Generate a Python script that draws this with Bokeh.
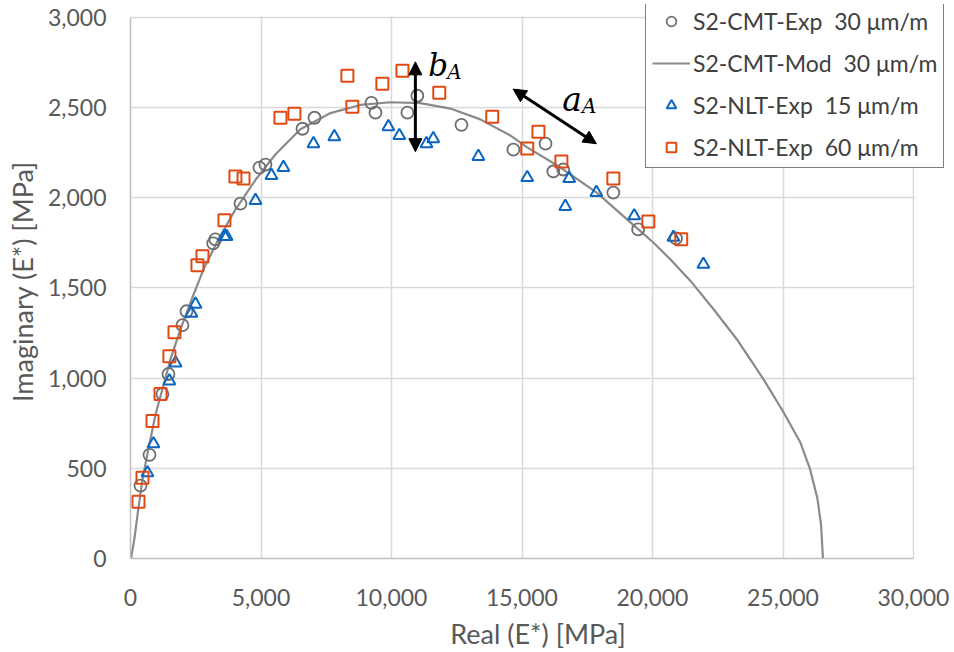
from bokeh.plotting import figure
from bokeh.models import (Legend, LegendItem, NumeralTickFormatter, FixedTicker,
                          Range1d, Arrow, NormalHead, Label, BoxAnnotation)
from bokeh.embed import file_html
from bokeh.resources import INLINE

# ---------------- data ----------------
cmt_exp_x = [383, 728, 1225, 1455, 1990, 2145, 3170, 3250, 4213, 4940, 5170,
             6590, 7050, 9230, 9385, 10610, 10990, 12680, 14670, 15900, 16200,
             16580, 18500, 19450, 20900]
cmt_exp_y = [404, 575, 912, 1023, 1294, 1371, 1747, 1770, 1968, 2168, 2184,
             2383, 2444, 2527, 2472, 2472, 2566, 2405, 2267, 2300, 2146,
             2157, 2029, 1825, 1775]

cmt_mod_x = [20, 150, 300, 460, 690, 960, 1225, 1530, 1915, 2300, 2800, 3370,
             4020, 4790, 5550, 6510, 7660, 8810, 9960, 11110, 12260, 13400,
             14560, 15200, 16400, 17850, 19460, 20040, 20680, 21510,
             22340, 23230, 24250, 25020, 25660, 26040, 26320, 26460, 26530]
cmt_mod_y = [0, 110, 275, 440, 610, 800, 940, 1105, 1270, 1420, 1605, 1770,
             1935, 2100, 2240, 2380, 2470, 2515, 2530, 2525, 2495, 2435,
             2345, 2280, 2175, 2030, 1825, 1751, 1659, 1530,
             1382, 1216, 995, 811, 645, 494, 332, 184, 0]

nlt15_x = [650, 880, 1490, 1725, 2335, 2490, 3600, 3680, 4790, 5400, 5860,
           7010, 7810, 9880, 10300, 11340, 11600, 13330, 15200, 16660, 16810,
           17850, 19300, 20800, 21950]
nlt15_y = [475, 636, 984, 1084, 1360, 1410, 1786, 1786, 1985, 2124, 2168,
           2300, 2339, 2394, 2345, 2300, 2328, 2229, 2112, 1952, 2107,
           2030, 1900, 1781, 1631]

nlt60_x = [306, 460, 843, 1150, 1490, 1685, 2565, 2757, 3600, 4020, 4330,
           5745, 6280, 8310, 8500, 9650, 10420, 11830, 13860, 15200, 15630,
           16510, 18500, 19840, 21100]
nlt60_y = [315, 448, 763, 912, 1122, 1255, 1626, 1676, 1875, 2118, 2107,
           2444, 2466, 2677, 2505, 2632, 2704, 2582, 2450, 2273, 2367,
           2201, 2107, 1869, 1770]

x_ticks = [0, 5000, 10000, 15000, 20000, 25000, 30000]
y_ticks = [0, 500, 1000, 1500, 2000, 2500, 3000]

labels = ["S2-CMT-Exp  30 μm/m", "S2-CMT-Mod  30 μm/m",
          "S2-NLT-Exp  15 μm/m", "S2-NLT-Exp  60 μm/m"]

# b_A arrow (vertical) and a_A arrow (diagonal)
bA_arrow = (10915, 2754, 10915, 2256)
aA_arrow = (14660, 2603, 17850, 2300)

# ---------------- figure ----------------
FONT = "Lato"
TXT = "#595959"
X_MAX, Y_MAX = 30000, 3000

# frame extends a little past the axis maxima so the legend box can overhang
p = figure(width=954, height=652, output_backend="svg", toolbar_location=None,
           x_range=Range1d(0, 31226), y_range=Range1d(0, 3072))
p.min_border_left = 130
p.min_border_right = 9
p.min_border_top = 4
p.min_border_bottom = 92
p.outline_line_color = None
p.background_fill_color = "white"
p.border_fill_color = "white"

for ax in (p.xaxis[0], p.yaxis[0]):
    ax.major_tick_line_color = None
    ax.minor_tick_line_color = None
    ax.axis_line_color = "#bfbfbf"
    ax.axis_line_width = 1.5
    ax.major_label_text_font = FONT
    ax.major_label_text_font_size = "23px"
    ax.major_label_text_color = TXT
    ax.axis_label_text_font = FONT
    ax.axis_label_text_font_size = "27px"
    ax.axis_label_text_color = TXT
    ax.axis_label_text_font_style = "normal"
    ax.formatter = NumeralTickFormatter(format="0,0")

p.xaxis[0].ticker = FixedTicker(ticks=x_ticks)
p.yaxis[0].ticker = FixedTicker(ticks=y_ticks)
p.xaxis[0].bounds = (0, X_MAX)
p.yaxis[0].bounds = (0, Y_MAX)
p.xaxis[0].axis_label = "Real (E*) [MPa]"
p.yaxis[0].axis_label = "Imaginary (E*) [MPa]"
p.xaxis[0].major_label_standoff = 24
p.yaxis[0].major_label_standoff = 18
p.xaxis[0].axis_label_standoff = 8
p.yaxis[0].axis_label_standoff = 6

p.xgrid.ticker = FixedTicker(ticks=x_ticks)
p.ygrid.ticker = FixedTicker(ticks=y_ticks)
p.grid.grid_line_color = "#d9d9d9"
p.grid.grid_line_width = 1.5

# mask grid lines beyond the axis maxima
p.add_layout(BoxAnnotation(left=X_MAX + 45, fill_color="white", fill_alpha=1,
                           line_color=None, level="underlay"))
p.add_layout(BoxAnnotation(bottom=Y_MAX + 7, fill_color="white", fill_alpha=1,
                           line_color=None, level="underlay"))

GRAY = "#6e6e6e"
BLUE = "#0a66c2"
ORANGE = "#e04a12"

r_mod = p.line(cmt_mod_x, cmt_mod_y, line_color="#8a8a8a", line_width=2.2)
r_cmt = p.scatter(cmt_exp_x, cmt_exp_y, marker="circle", size=12,
                  fill_color=None, line_color=GRAY, line_width=1.8)
r_15 = p.scatter(nlt15_x, nlt15_y, marker="triangle", size=12,
                 fill_color=None, line_color=BLUE, line_width=2)
r_60 = p.scatter(nlt60_x, nlt60_y, marker="square", size=12,
                 fill_color=None, line_color=ORANGE, line_width=2)

# arrows
for (x0, y0, x1, y1) in (bA_arrow, aA_arrow):
    p.add_layout(Arrow(x_start=x0, y_start=y0, x_end=x1, y_end=y1,
                       line_color="black", line_width=3,
                       start=NormalHead(size=13, fill_color="black", line_color="black"),
                       end=NormalHead(size=13, fill_color="black", line_color="black")))

SERIF = "DejaVu Serif"
p.add_layout(Label(x=11410, y=2737, text="b", text_font=SERIF,
                   text_font_style="italic", text_font_size="31px",
                   text_color="black", text_baseline="alphabetic"))
p.add_layout(Label(x=12140, y=2699, text="A", text_font=SERIF,
                   text_font_style="italic", text_font_size="20px",
                   text_color="black", text_baseline="alphabetic"))
p.add_layout(Label(x=16545, y=2544, text="a", text_font=SERIF,
                   text_font_style="italic", text_font_size="33px",
                   text_color="black", text_baseline="alphabetic"))
p.add_layout(Label(x=17300, y=2508, text="A", text_font=SERIF,
                   text_font_style="italic", text_font_size="20px",
                   text_color="black", text_baseline="alphabetic"))

legend = Legend(items=[LegendItem(label=labels[0], renderers=[r_cmt]),
                       LegendItem(label=labels[1], renderers=[r_mod]),
                       LegendItem(label=labels[2], renderers=[r_15]),
                       LegendItem(label=labels[3], renderers=[r_60])],
                location=(515, 390))
legend.border_line_color = "black"
legend.border_line_width = 1.5
legend.background_fill_color = "white"
legend.background_fill_alpha = 1
legend.label_text_font = FONT
legend.label_text_font_size = "23px"
legend.label_text_color = "#404040"
legend.glyph_width = 38
legend.glyph_height = 24
legend.label_height = 24
legend.spacing = 14
legend.padding = 6
legend.margin = 0
legend.label_standoff = 3
p.add_layout(legend, "center")

open("out.html", "w").write(file_html(p, INLINE))
